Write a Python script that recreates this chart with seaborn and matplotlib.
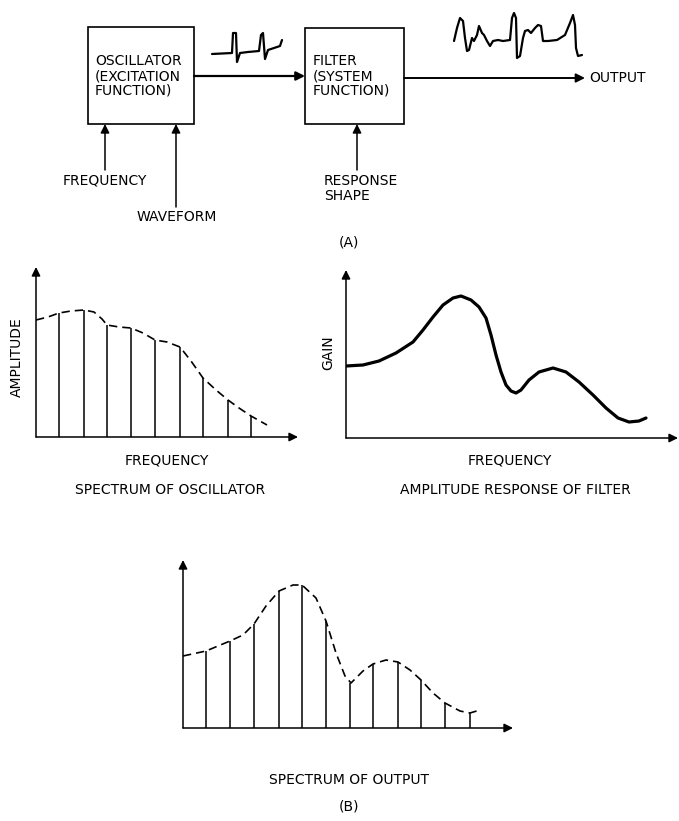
import seaborn as sns
import matplotlib.pyplot as plt
from matplotlib.patches import Rectangle

# Oscillator spectrum (offset from y-axis in px, height above baseline)
osc_freq = [23, 48, 71, 95, 119, 144, 167, 192, 215]
osc_amp = [124, 127, 112, 109, 97, 90, 59, 37, 21]
osc_env_x = [0, 12, 23, 35, 48, 58, 66, 71, 83, 95, 107, 119, 131, 144, 155, 167, 180, 192, 203, 215, 231]
osc_env_y = [117, 120, 124, 126, 127, 125, 118, 112, 110, 109, 104, 97, 95, 90, 76, 59, 47, 37, 29, 21, 12]

# Filter amplitude response
filt_x = [0, 17, 33, 50, 67, 77, 87, 97, 107, 115, 125, 133, 140, 145, 150, 155, 160, 165, 170,
          175, 183, 193, 207, 220, 233, 247, 260, 272, 283, 293, 300]
filt_gain = [72, 73, 77, 85, 96, 108, 121, 133, 140, 142, 138, 131, 120, 103, 83, 66, 53, 47, 45,
             48, 58, 66, 70, 66, 56, 43, 30, 20, 16, 17, 20]

# Output spectrum
out_freq = [23, 47, 71, 96, 119, 143, 167, 190, 215, 238, 262, 287]
out_amp = [77, 87, 104, 137, 143, 107, 45, 64, 66, 48, 25, 15]
out_env_x = [0, 23, 47, 60, 71, 83, 96, 110, 119, 133, 143, 153, 162, 168, 180, 190, 203, 215,
             227, 238, 250, 262, 277, 287, 297]
out_env_y = [72, 77, 87, 93, 104, 122, 137, 143, 143, 130, 107, 75, 52, 45, 57, 64, 68, 66,
             58, 48, 35, 25, 17, 15, 18]

# little waveform sketches in the block diagram
wave_in_x = [212, 232, 233, 236, 237, 240, 248, 259, 261, 263, 265, 268, 280, 282]
wave_in_y = [54, 53, 33, 33, 62, 53, 52, 51, 35, 33, 59, 50, 46, 40]
wave_out_x = [454, 457, 460, 463, 465, 467, 469, 472, 474, 477, 479, 482, 484, 487, 490, 493,
              498, 503, 510, 512, 514, 516, 517, 520, 523, 525, 528, 531, 535, 538, 541, 543,
              548, 557, 565, 570, 573, 575, 576, 578, 582]
wave_out_y = [41, 28, 18, 21, 38, 51, 50, 38, 41, 35, 26, 33, 35, 41, 46, 41,
              40, 41, 40, 18, 13, 18, 58, 56, 38, 31, 30, 33, 28, 25, 26, 41,
              41, 40, 35, 23, 15, 25, 48, 56, 55]

sns.set_style("white")
plt.rcParams['font.family'] = ['DejaVu Sans']
plt.rcParams['text.color'] = 'black'
FS = 10

fig = plt.figure(figsize=(6.79, 8.21), dpi=100)

# overlay in pixel coordinates for the block diagram and captions
ax0 = fig.add_axes([0, 0, 1, 1])
ax0.set_xlim(0, 679)
ax0.set_ylim(821, 0)
ax0.axis('off')

arrow_kw = dict(arrowstyle='-|>', color='k', mutation_scale=13, shrinkA=0, shrinkB=0)

# boxes
ax0.add_patch(Rectangle((88, 27), 106, 97, fill=False, lw=1.2, ec='k'))
ax0.add_patch(Rectangle((305, 28), 99, 96, fill=False, lw=1.2, ec='k'))
for i, s in enumerate(["OSCILLATOR", "(EXCITATION", "FUNCTION)"]):
    ax0.text(95, 61 + 15 * i, s, fontsize=FS, ha='left', va='center')
for i, s in enumerate(["FILTER", "(SYSTEM", "FUNCTION)"]):
    ax0.text(313, 61 + 15 * i, s, fontsize=FS, ha='left', va='center')

# signal arrows
ax0.annotate('', xy=(305, 76), xytext=(194, 76), arrowprops=dict(lw=1.6, **arrow_kw))
ax0.annotate('', xy=(585, 78), xytext=(404, 78), arrowprops=dict(lw=1.4, **arrow_kw))
ax0.text(589, 78, "OUTPUT", fontsize=FS, ha='left', va='center')

# control arrows
ax0.annotate('', xy=(105, 124), xytext=(105, 170), arrowprops=dict(lw=1.1, **arrow_kw))
ax0.annotate('', xy=(176, 124), xytext=(176, 207), arrowprops=dict(lw=1.1, **arrow_kw))
ax0.annotate('', xy=(357, 124), xytext=(357, 170), arrowprops=dict(lw=1.1, **arrow_kw))
ax0.text(105, 180, "FREQUENCY", fontsize=FS, ha='center', va='center')
ax0.text(177, 217, "WAVEFORM", fontsize=FS, ha='center', va='center')
ax0.text(324, 181, "RESPONSE", fontsize=FS, ha='left', va='center')
ax0.text(324, 196, "SHAPE", fontsize=FS, ha='left', va='center')
ax0.text(349, 243, "(A)", fontsize=FS, ha='center', va='center')

sns.lineplot(x=wave_in_x, y=wave_in_y, sort=False, estimator=None, color='k', lw=1.6, ax=ax0)
sns.lineplot(x=wave_out_x, y=wave_out_y, sort=False, estimator=None, color='k', lw=1.6,
             solid_joinstyle='round', solid_capstyle='round', ax=ax0)

# captions
ax0.text(17, 357, "AMPLITUDE", fontsize=FS, rotation=90, ha='center', va='center')
ax0.text(167, 460, "FREQUENCY", fontsize=FS, ha='center', va='center')
ax0.text(170, 490, "SPECTRUM OF OSCILLATOR", fontsize=FS, ha='center', va='center')
ax0.text(328, 353, "GAIN", fontsize=FS, rotation=90, ha='center', va='center')
ax0.text(510, 460, "FREQUENCY", fontsize=FS, ha='center', va='center')
ax0.text(515, 490, "AMPLITUDE RESPONSE OF FILTER", fontsize=FS, ha='center', va='center')
ax0.text(349, 780, "SPECTRUM OF OUTPUT", fontsize=FS, ha='center', va='center')
ax0.text(349, 807, "(B)", fontsize=FS, ha='center', va='center')


def make_axes(x0, base, w, h):
    ax = fig.add_axes([x0 / 679, 1 - base / 821, w / 679, h / 821])
    ax.set_xlim(0, w)
    ax.set_ylim(0, h)
    ax.axis('off')
    ax.annotate('', xy=(0, h), xytext=(0, 0), arrowprops=dict(lw=1.1, **arrow_kw),
                annotation_clip=False)
    ax.annotate('', xy=(w, 0), xytext=(0, 0), arrowprops=dict(lw=1.1, **arrow_kw),
                annotation_clip=False)
    return ax


dash = (0, (5, 3))

# spectrum of oscillator
ax1 = make_axes(36, 437, 262, 170)
ax1.vlines(osc_freq, 0, osc_amp, color='k', lw=1.1)
sns.lineplot(x=osc_env_x, y=osc_env_y, color='k', lw=1.2, linestyle=dash, ax=ax1)

# amplitude response of filter
ax2 = make_axes(346, 438, 332, 168)
sns.lineplot(x=filt_x, y=filt_gain, color='k', lw=2.3, solid_joinstyle='round',
             solid_capstyle='round', ax=ax2)

# spectrum of output
ax3 = make_axes(183, 728, 330, 168)
ax3.vlines(out_freq, 0, out_amp, color='k', lw=1.1)
sns.lineplot(x=out_env_x, y=out_env_y, color='k', lw=1.2, linestyle=dash, ax=ax3)

for a in (ax0, ax1, ax2, ax3):
    leg = a.get_legend()
    if leg is not None:
        leg.remove()

plt.savefig('out.png', dpi=100)
plt.close()
